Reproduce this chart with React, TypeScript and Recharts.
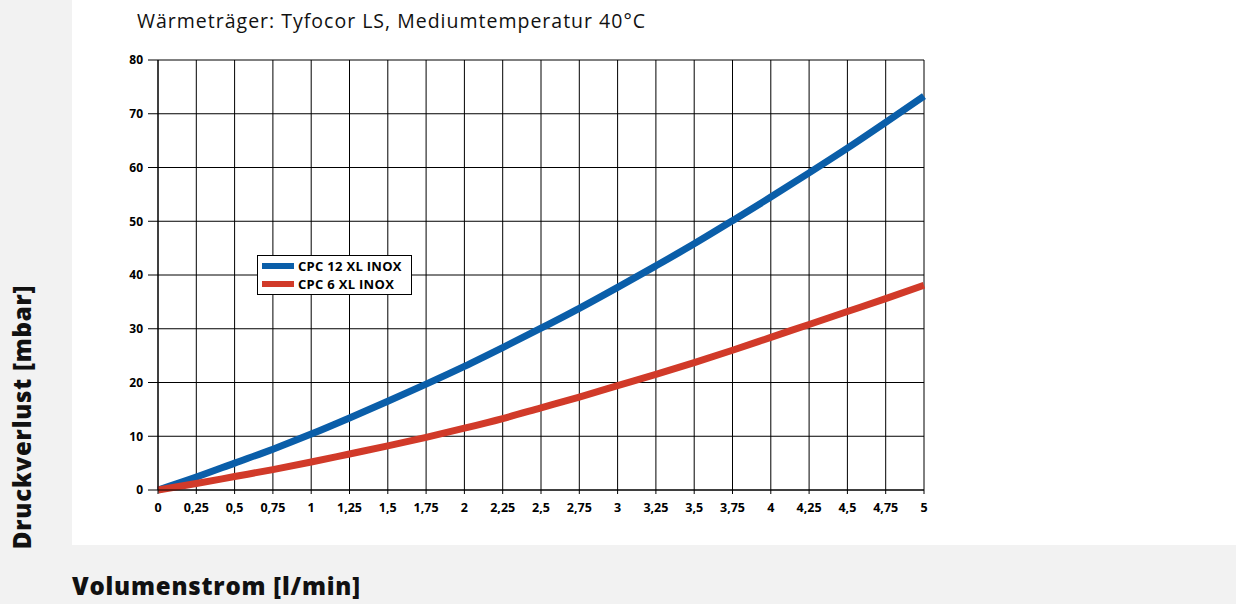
import { LineChart, Line, XAxis, YAxis, CartesianGrid } from "recharts";

const flow = [0, 0.25, 0.5, 0.75, 1, 1.25, 1.5, 1.75, 2, 2.25, 2.5, 2.75, 3, 3.25, 3.5, 3.75, 4, 4.25, 4.5, 4.75, 5];
const cpc12 = [0, 2.4, 5.0, 7.6, 10.4, 13.4, 16.5, 19.7, 23.0, 26.5, 30.1, 33.8, 37.7, 41.7, 45.8, 50.1, 54.5, 59.0, 63.6, 68.4, 73.3];
const cpc6 = [0, 1.2, 2.5, 3.8, 5.2, 6.7, 8.2, 9.8, 11.5, 13.3, 15.3, 17.3, 19.4, 21.5, 23.7, 26.0, 28.4, 30.8, 33.2, 35.6, 38.1];
const yTicks = [0, 10, 20, 30, 40, 50, 60, 70, 80];

const seriesNames = ["CPC 12 XL INOX", "CPC 6 XL INOX"];
const colors = ["#0a5ea9", "#d13a29"];

const data = flow.map((f, i) => ({ flow: f, cpc12: cpc12[i], cpc6: cpc6[i] }));

const fmt = (v: number) => String(v).replace(".", ",");
const tickFont = { fontFamily: "'Open Sans', sans-serif", fontSize: 12, fontWeight: 700, fill: "#000" };
const labelFont = { fontFamily: "'Open Sans', sans-serif", fontWeight: 800, fontSize: 24, letterSpacing: 0.8, color: "#111" };

function LegendBox() {
  return (
    <div
      style={{
        position: "absolute",
        left: 257,
        top: 255,
        width: 155,
        boxSizing: "border-box",
        background: "#fff",
        border: "1px solid #000",
        padding: "1px 4px",
        fontFamily: "'Open Sans', sans-serif",
        fontWeight: 700,
        fontSize: 13,
        letterSpacing: 0.3,
        lineHeight: "18px",
        color: "#000",
        whiteSpace: "nowrap",
      }}
    >
      {seriesNames.map((n, i) => (
        <div key={n} style={{ display: "flex", alignItems: "center" }}>
          <span style={{ display: "inline-block", width: 32, height: 6, background: colors[i], marginRight: 4 }} />
          {n}
        </div>
      ))}
    </div>
  );
}

export default function App() {
  return (
    <div style={{ position: "fixed", left: 0, top: 0, width: 1236, height: 604, background: "#f2f2f2", overflow: "hidden" }}>
      <div style={{ position: "absolute", left: 72, top: 0, width: 1164, height: 545, background: "#fff" }} />
      <div
        style={{
          position: "absolute",
          left: 137,
          top: 7,
          fontFamily: "'Open Sans', sans-serif",
          fontSize: 19.5,
          letterSpacing: 1,
          color: "#111",
          whiteSpace: "nowrap",
        }}
      >
        Wärmeträger: Tyfocor LS, Mediumtemperatur 40°C
      </div>
      <div
        style={{
          position: "absolute",
          left: 21,
          top: 417,
          transform: "translate(-50%, -50%) rotate(-90deg)",
          whiteSpace: "nowrap",
          ...labelFont,
        }}
      >
        Druckverlust [mbar]
      </div>
      <div style={{ position: "absolute", left: 72, top: 569, whiteSpace: "nowrap", ...labelFont }}>
        Volumenstrom [l/min]
      </div>
      <div style={{ position: "absolute", left: 0, top: 0 }}>
        <LineChart width={1236} height={604} data={data} margin={{ top: 60, right: 312, bottom: 84, left: 128 }}>
          <CartesianGrid stroke="#000" strokeWidth={1} />
          <XAxis
            dataKey="flow"
            type="number"
            domain={[0, 5]}
            ticks={flow}
            tickFormatter={fmt}
            interval={0}
            height={30}
            tickSize={4}
            tickMargin={9}
            axisLine={{ stroke: "#000" }}
            tickLine={{ stroke: "#000" }}
            tick={{ ...tickFont, fontSize: 12.5 }}
          />
          <YAxis
            type="number"
            domain={[0, 80]}
            ticks={yTicks}
            interval={0}
            width={30}
            tickSize={10}
            tickMargin={5}
            axisLine={{ stroke: "#000" }}
            tickLine={{ stroke: "#000" }}
            tick={tickFont}
          />
          <Line
            type="monotone"
            dataKey="cpc12"
            name={seriesNames[0]}
            stroke={colors[0]}
            strokeWidth={7}
            dot={false}
            isAnimationActive={false}
          />
          <Line
            type="monotone"
            dataKey="cpc6"
            name={seriesNames[1]}
            stroke={colors[1]}
            strokeWidth={7}
            dot={false}
            isAnimationActive={false}
          />
        </LineChart>
      </div>
      <LegendBox />
    </div>
  );
}
